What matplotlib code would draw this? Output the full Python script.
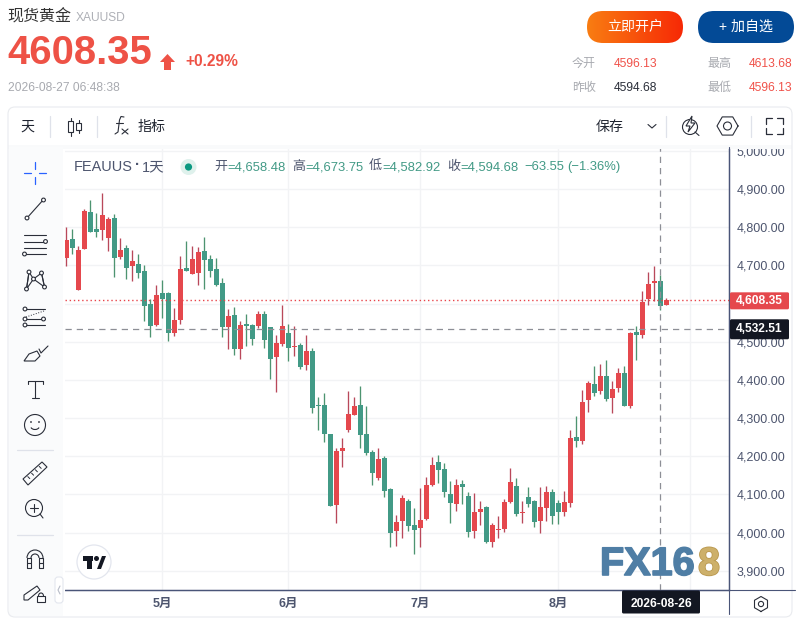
import matplotlib
matplotlib.use('Agg')
import matplotlib.pyplot as plt
import numpy as np
from matplotlib.patches import Rectangle, FancyBboxPatch, Circle, Polygon, Arc
import matplotlib.patheffects as pe

plt.rcParams['font.family'] = ['Liberation Sans', 'Noto Sans CJK SC', 'DejaVu Sans']

# daily candles
opens = [4719, 4769, 4635, 4743, 4840, 4795, 4793, 4772, 4824, 4722,
         4745, 4698, 4704, 4685, 4599, 4544, 4628, 4628, 4523, 4557,
         4693, 4677, 4680, 4738, 4717, 4690, 4654, 4538, 4570, 4481,
         4546, 4544, 4541, 4573, 4538, 4460, 4494, 4523, 4487, 4491,
         4439, 4476, 4334, 4334, 4258, 4072, 4214, 4269, 4308, 4334,
         4258, 4211, 4143, 4195, 4114, 4004, 4030, 4083, 4020, 4012,
         4035, 4125, 4185, 4166, 4101, 4075, 4127, 4096, 4004, 4054,
         4067, 3975, 4007, 4009, 4080, 4122, 4051, 4093, 4083, 4030,
         4064, 4106, 4077, 4054, 4077, 4250, 4240, 4347, 4389, 4371,
         4410, 4352, 4379, 4418, 4332, 4525, 4518, 4612, 4654, 4658.48,
         4596.13]
highs = [4801, 4795, 4751, 4848, 4871, 4837, 4890, 4827, 4835, 4772,
         4753, 4740, 4730, 4701, 4612, 4649, 4662, 4630, 4588, 4725,
         4764, 4751, 4748, 4774, 4727, 4719, 4667, 4586, 4591, 4554,
         4573, 4546, 4580, 4580, 4538, 4517, 4596, 4546, 4541, 4497,
         4517, 4483, 4355, 4366, 4258, 4221, 4248, 4371, 4355, 4384,
         4332, 4216, 4221, 4201, 4117, 4046, 4098, 4088, 4064, 4117,
         4146, 4198, 4203, 4182, 4135, 4140, 4138, 4106, 4104, 4083,
         4070, 4025, 4043, 4088, 4169, 4143, 4083, 4119, 4085, 4119,
         4122, 4114, 4085, 4109, 4269, 4305, 4373, 4397, 4436, 4442,
         4452, 4397, 4431, 4436, 4525, 4541, 4633, 4683, 4698, 4673.75,
         4613.68]
lows = [4698, 4730, 4635, 4743, 4787, 4774, 4766, 4738, 4669, 4717,
        4664, 4659, 4667, 4554, 4512, 4541, 4562, 4502, 4515, 4546,
        4685, 4677, 4649, 4638, 4669, 4646, 4512, 4481, 4465, 4455,
        4489, 4491, 4536, 4483, 4402, 4368, 4489, 4449, 4462, 4428,
        4426, 4313, 4269, 4237, 4070, 4025, 4172, 4263, 4308, 4221,
        4203, 4125, 4138, 4093, 3962, 3965, 3986, 4004, 3944, 3962,
        4033, 4122, 4130, 4093, 4025, 4056, 4075, 3988, 3986, 4020,
        3973, 3962, 3986, 4001, 4077, 4043, 4025, 4067, 4015, 3999,
        4030, 4022, 4022, 4043, 4067, 4224, 4232, 4316, 4358, 4363,
        4345, 4313, 4368, 4332, 4326, 4452, 4510, 4596, 4607, 4582.92,
        4596.13]
closes = [4766, 4745, 4740, 4842, 4787, 4787, 4832, 4821, 4719, 4740,
          4693, 4711, 4680, 4594, 4541, 4622, 4612, 4523, 4557, 4690,
          4685, 4717, 4735, 4714, 4685, 4649, 4538, 4567, 4481, 4544,
          4541, 4507, 4573, 4504, 4455, 4497, 4541, 4483, 4489, 4434,
          4476, 4326, 4332, 4258, 4070, 4214, 4221, 4311, 4332, 4256,
          4208, 4156, 4193, 4109, 3999, 4028, 4090, 4017, 4007, 4033,
          4125, 4177, 4164, 4106, 4077, 4125, 4119, 4001, 4054, 4062,
          3975, 4020, 4009, 4080, 4132, 4049, 4054, 4075, 4028, 4067,
          4106, 4043, 4054, 4080, 4248, 4240, 4342, 4392, 4366, 4410,
          4350, 4376, 4418, 4332, 4523, 4518, 4604, 4651, 4659, 4594.68,
          4608.35]

month_pos = [16, 37, 59, 82, 104]
month_labels = ['5月', '6月', '7月', '8月', '']
price_ticks = [3900, 4000, 4100, 4200, 4300, 4400, 4500, 4600, 4700, 4800, 4900, 5000]
last_price = 4608.35
cross_price = 4532.51
cross_idx = 99
cross_date = '2026-08-26'

RED = '#e5484d'
GREEN = '#429a86'
RED_W = '#b9485a'
GREEN_W = '#4d9470'
GRID = '#f2f3f5'
AXIS = '#4a5578'
TXT = '#4d556e'
W, H = 804, 620

fig = plt.figure(figsize=(W / 100, H / 100), dpi=100, facecolor='white')

# chart area, placed by pixels
L, R, T, B = 65, 729.3, 147, 590.3
ax = fig.add_axes([L / W, 1 - B / H, (R - L) / W, (B - T) / H], zorder=1)
idx = np.arange(len(opens))
o, h, l, c = map(np.array, (opens, highs, lows, closes))
up = c >= o

ax.set_xlim(-0.217, 110.5)
ax.set_ylim(3848.7, 5010)
ax.grid(color=GRID, lw=1, zorder=0)
ax.set_axisbelow(True)
ax.vlines(idx[up], l[up], h[up], color=RED_W, lw=0.95, zorder=2)
ax.vlines(idx[~up], l[~up], h[~up], color=GREEN_W, lw=0.95, zorder=2)
ax.bar(idx[up], np.maximum(c - o, 2)[up], 0.84, o[up], color=RED, zorder=3)
ax.bar(idx[~up], np.maximum(o - c, 2)[~up], 0.84, c[~up], color=GREEN, zorder=3)

ax.axhline(last_price, color='#e8444a', lw=1, ls=(0, (1, 2)), zorder=4)
ax.axhline(cross_price, color='#8d8f96', lw=0.9, ls=(0, (5, 4)), zorder=4)
ax.axvline(cross_idx, color='#8d8f96', lw=0.9, ls=(0, (5, 4)), zorder=4)

ax.yaxis.tick_right()
ax.set_yticks(price_ticks)
# the 4,600.00 label sits fully behind the last price tag in the reference
ax.set_yticklabels(['' if v == 4600 else f'{v:,.2f}' for v in price_ticks], fontsize=9, color=TXT)
ax.set_xticks(month_pos)
ax.set_xticklabels(month_labels, fontsize=9, color=TXT, fontweight='bold')
ax.tick_params(length=0, axis='y', pad=5.5)
ax.tick_params(length=0, axis='x', pad=5.5)
for s in ('top', 'left'):
    ax.spines[s].set_visible(False)
ax.spines['right'].set_color(AXIS)
ax.spines['bottom'].set_color(AXIS)
ax.spines['right'].set_linewidth(1)
ax.spines['bottom'].set_linewidth(1)

# everything around the chart goes on a pixel overlay
ui = fig.add_axes([0, 0, 1, 1], zorder=2)
ui.set_xlim(0, W)
ui.set_ylim(H, 0)
ui.axis('off')
ui.patch.set_alpha(0)


def rect(x0, y0, x1, y1, color, z=1):
    ui.add_patch(Rectangle((x0, y0), x1 - x0, y1 - y0, fc=color, ec='none', zorder=z))


def seg(xs, ys, color='#2a2e39', lw=0.8, z=5):
    ui.plot(xs, ys, color=color, lw=lw, zorder=z, solid_capstyle='round')


def dot(x, y, r=1.9, color='#2a2e39', z=6):
    ui.add_patch(Circle((x, y), r, fc='white', ec=color, lw=0.8, zorder=z))


def txt(x, y, s, size, color, ha='left', weight='normal', z=8):
    ui.text(x, y, s, fontsize=size * 0.72, color=color, ha=ha, va='center', fontweight=weight, zorder=z)


# page header and toolbar cover
rect(0, 0, W, 147, 'white', 1)
rect(8, 145, 792, 149, '#f9fafb', 2)
ui.add_patch(FancyBboxPatch((8, 107), 784, 510, boxstyle='round,pad=0,rounding_size=7',
                            fc='none', ec='#e9ebef', lw=0.8, zorder=3))
rect(0, 147, 65, H, 'white', 1)
rect(9, 147, 63, 616, '#fafbfc', 2)
rect(63, 149, 65, 589, 'white', 2)
rect(789, 147, W, 590, 'white', 1)
seg([65, 795], [590.3, 590.3], AXIS, 0.8, 4)
seg([729.3, 729.3], [147, 614], AXIS, 0.8, 4)

txt(7.5, 17, '现货黄金', 16, '#333333')
txt(76, 18, 'XAUUSD', 12, '#aeb0b6')
txt(7, 53, '4608.35', 40, '#ee5246', weight='bold')
ui.add_patch(Polygon([[167.5, 54], [175, 62], [171, 62], [171, 70], [164, 70], [164, 62], [160, 62]],
                     fc='#ee5246', ec='none', zorder=6))
txt(185, 62, '+0.29%', 15.5, '#ee5246', weight='bold')
txt(8, 88, '2026-08-27 06:48:38', 12, '#a8aab0')

# buttons
grad = np.linspace(0, 1, 200).reshape(1, -1)
orange = np.zeros((1, 200, 3))
orange[..., 0] = 0.976 - 0.008 * grad
orange[..., 1] = 0.49 - 0.33 * grad
orange[..., 2] = 0.07 - 0.05 * grad
im = ui.imshow(orange, extent=(587, 683, 43, 11), aspect='auto', zorder=3)
pill = FancyBboxPatch((587, 11), 96, 32, boxstyle='round,pad=0,rounding_size=16', fc='none', ec='none',
                      transform=ui.transData)
ui.add_patch(pill)
im.set_clip_path(pill)
ui.add_patch(FancyBboxPatch((698, 11), 96, 32, boxstyle='round,pad=0,rounding_size=16',
                            fc='#034a96', ec='none', zorder=3))
ui.set_xlim(0, W)
ui.set_ylim(H, 0)
txt(635, 27, '立即开户', 14, 'white', ha='center')
txt(746, 27, '+ 加自选', 14, 'white', ha='center')

for x, y, s, col, size in [(572, 64, '今开', '#a8aab0', 12), (614, 64, '4596.13', '#f0524a', 12),
                           (707, 64, '最高', '#a8aab0', 12), (749, 64, '4613.68', '#f0524a', 12),
                           (572, 88, '昨收', '#a8aab0', 12), (614, 88, '4594.68', '#2a2e39', 12),
                           (707, 88, '最低', '#a8aab0', 12), (749, 88, '4596.13', '#f0524a', 12)]:
    txt(x, y, s, size, col)

# top toolbar
txt(27, 127, '天', 14, '#1f2430', ha='center')
for x in (50, 97, 666, 751):
    seg([x, x], [116, 137], '#dfe2ea', 0.9)
seg([71, 71], [118, 136], lw=0.8)
ui.add_patch(Rectangle((68.5, 121), 5, 11, fc='white', ec='#2a2e39', lw=0.8, zorder=6))
seg([79, 79], [120, 133], lw=0.8)
ui.add_patch(Rectangle((76.5, 123), 5, 7, fc='white', ec='#2a2e39', lw=0.8, zorder=6))
# fx icon as strokes
seg([124, 121, 119.5, 118, 115], [117, 116.5, 120, 132, 134], lw=0.8)
seg([116, 123], [123, 123], lw=0.8)
seg([122, 128], [129, 134], lw=0.8)
seg([128, 122], [129, 134], lw=0.8)
txt(138, 127, '指标', 14, '#1f2430')
txt(596, 127, '保存', 14, '#1f2430')
seg([648, 652, 656], [124.5, 128, 124.5], lw=0.8)
ui.add_patch(Circle((690, 127), 7.5, fc='none', ec='#2a2e39', lw=0.8, zorder=5))
seg([695, 699], [132, 135.5], lw=0.8)
ui.add_patch(Polygon([[692, 116], [686, 126], [690, 126], [688, 132], [695, 123], [691, 123]],
                     fc='white', ec='#2a2e39', lw=0.8, zorder=6))
ang = np.deg2rad(np.arange(0, 361, 60))
ui.plot(727.5 + 10.5 * np.cos(ang), 126 + 10.5 * np.sin(ang), color='#2a2e39', lw=0.8, zorder=5)
ui.add_patch(Circle((727.5, 126), 4, fc='none', ec='#2a2e39', lw=0.8, zorder=5))
for sx, sy in [(766, 118), (783, 118), (766, 134), (783, 134)]:
    dx = 6 if sx == 766 else -6
    dy = 6 if sy == 118 else -6
    seg([sx + dx, sx, sx], [sy, sy, sy + dy], lw=0.9)

# legend line over the chart
txt(74, 167, 'FEAUUS', 14.5, TXT)
txt(135, 165, '·', 15, TXT, weight='bold')
txt(142, 167, '1天', 14.5, TXT)
ui.add_patch(Circle((188.5, 167), 8, fc='#dff1ec', ec='none', zorder=5))
ui.add_patch(Circle((188.5, 167), 3.6, fc='#0b9981', ec='none', zorder=6))
for x, s, col in [(214, '开', TXT), (227.5, '=4,658.48', GREEN), (292, '高', TXT), (305, '=4,673.75', GREEN),
                  (369, '低', TXT), (382.5, '=4,582.92', GREEN), (447, '收', TXT), (460, '=4,594.68', GREEN),
                  (524, '−63.55', GREEN), (567, '(−1.36%)', GREEN)]:
    txt(x, 167, s, 13, col)

# price and date tags
ax_y = lambda p: B - (p - 3848.7) / (5010 - 3848.7) * (B - T)
py = ax_y(last_price)
ui.add_patch(FancyBboxPatch((730, py - 8), 59, 17, boxstyle='round,pad=0,rounding_size=1.5', fc=RED, ec='none', zorder=6))
txt(759.5, py + 0.5, f'{last_price:,.2f}', 12, 'white', ha='center', weight='bold')
cy = ax_y(cross_price)
ui.add_patch(FancyBboxPatch((730, cy - 10), 59, 20, boxstyle='round,pad=0,rounding_size=1.5', fc='#131722', ec='none', zorder=6))
txt(759.5, cy, f'{cross_price:,.2f}', 12, 'white', ha='center', weight='bold')
ui.add_patch(FancyBboxPatch((622, 590.5), 78, 23, boxstyle='round,pad=0,rounding_size=1.5', fc='#131722', ec='none', zorder=6))
txt(661, 604, cross_date, 12, 'white', ha='center', weight='bold')
ui.plot(761 + 7.5 * np.sin(ang), 604 + 7.5 * np.cos(ang), color='#2a2e39', lw=0.8, zorder=5)
ui.add_patch(Circle((761, 604), 2.6, fc='none', ec='#2a2e39', lw=0.8, zorder=5))

# TV badge
ui.add_patch(Circle((94, 562), 17, fc='white', ec='#e3e6ee', lw=0.9, zorder=5))
rect(83, 556, 93, 561, '#131722', 6)
rect(87, 556, 92, 569, '#131722', 6)
ui.add_patch(Circle((96.5, 558.5), 2.5, fc='#131722', ec='none', zorder=6))
ui.add_patch(Polygon([[97, 569], [102, 556], [106, 556], [101, 569]], fc='#131722', ec='none', zorder=6))

# watermark
wm = ui.text(600, 564, 'FX16', fontsize=28.5, fontweight='bold', color='#4f7ea5', ha='left', va='center', zorder=7)
wm.set_path_effects([pe.withStroke(linewidth=1.2, foreground='#4f7ea5')])
wm8 = ui.text(720, 564, '8', fontsize=28.5, fontweight='bold', color='#cdb06a', ha='right', va='center', zorder=7)
wm8.set_path_effects([pe.withStroke(linewidth=1.2, foreground='#b9984f')])

# drawing tools on the left
seg([24, 31], [173, 173], '#2962ff', 0.9)
seg([39, 46], [173, 173], '#2962ff', 0.9)
seg([35, 35], [162, 169], '#2962ff', 0.9)
seg([35, 35], [177, 184], '#2962ff', 0.9)

seg([27, 44], [218, 199])
dot(27, 218)
dot(43.5, 200)

for yy in (235, 241.5, 247.5, 254):
    seg([24, 46], [yy, yy])
dot(45.5, 241.5)
dot(24.5, 254)

pts = [(29, 272), (26.5, 289), (33.5, 279), (41.5, 273), (44.5, 287)]
seg([p[0] for p in pts], [p[1] for p in pts])
seg([29, 33.5, 44.5], [272, 279, 287])
seg([26.5, 29], [289, 272])
seg([41.5, 44.5], [273, 287])
for p in pts:
    dot(*p)

for yy in (309, 319, 325):
    seg([25, 45], [yy, yy])
ui.plot([26, 44], [317, 311], color='#2a2e39', lw=0.7, ls=':', zorder=5)
dot(25, 309)
dot(25, 319)
dot(43.5, 319)
dot(25, 325)

ui.add_patch(Polygon([[24, 361], [29, 354], [37, 351], [40, 356], [35, 361]], fc='none', ec='#2a2e39', lw=0.8, zorder=5))
seg([39, 41, 48], [349, 353, 346])

seg([28.5, 43], [381, 381])
seg([35.5, 35.5], [381, 398])
seg([32.5, 39], [398, 398])
seg([28.5, 28.5], [381, 384])
seg([43, 43], [381, 384])

ui.add_patch(Circle((35, 425), 10.5, fc='none', ec='#2a2e39', lw=0.8, zorder=5))
ui.add_patch(Circle((31, 422), 0.9, fc='#2a2e39', ec='none', zorder=5))
ui.add_patch(Circle((39, 422), 0.9, fc='#2a2e39', ec='none', zorder=5))
ui.add_patch(Arc((35, 426), 9, 7, theta1=20, theta2=160, ec='#2a2e39', lw=0.8, zorder=5))

seg([17, 53], [449.5, 449.5], '#dfe2ea', 0.9)
seg([17, 53], [534.5, 534.5], '#dfe2ea', 0.9)

ui.add_patch(Polygon([[23, 479], [42, 462], [47, 467], [28, 485]], fc='none', ec='#2a2e39', lw=0.8, zorder=5))
for t in (0.2, 0.4, 0.6, 0.8):
    seg([23 + 19 * t + 1, 23 + 19 * t + 3], [479 - 17 * t + 1, 479 - 17 * t + 3], lw=0.7)

ui.add_patch(Circle((34, 508), 8.5, fc='none', ec='#2a2e39', lw=0.8, zorder=5))
seg([40, 43], [514, 518])
seg([30, 38], [508, 508])
seg([34, 34], [504, 512])

# magnet: arcs are flipped by the inverted y axis, so 180-360 is the top half
ui.add_patch(Arc((35, 558), 16, 16, theta1=180, theta2=360, ec='#2a2e39', lw=0.8, zorder=5))
ui.add_patch(Arc((35, 558), 8, 8, theta1=180, theta2=360, ec='#2a2e39', lw=0.8, zorder=5))
for x0, x1 in [(27, 31), (39, 43)]:
    seg([x0, x0, x1, x1, x0], [558, 568, 568, 558, 558])
    seg([x0, x1], [563, 563])

ui.add_patch(Polygon([[24, 595], [37, 586], [40, 590], [28, 600], [24, 600]], fc='none', ec='#2a2e39', lw=0.8, zorder=5))
ui.add_patch(Rectangle((37, 596), 8, 6, fc='white', ec='#2a2e39', lw=0.8, zorder=6))
ui.add_patch(Arc((41, 596), 5, 6, theta1=180, theta2=360, ec='#2a2e39', lw=0.8, zorder=6))

# collapse handle
ui.add_patch(FancyBboxPatch((55, 577), 8, 26, boxstyle='round,pad=0,rounding_size=3', fc='white', ec='#e3e6ee', lw=0.8, zorder=6))
seg([60, 58, 60], [586, 590, 594], '#b8bcc8', 0.8, 7)

fig.savefig('out.png', dpi=100)
